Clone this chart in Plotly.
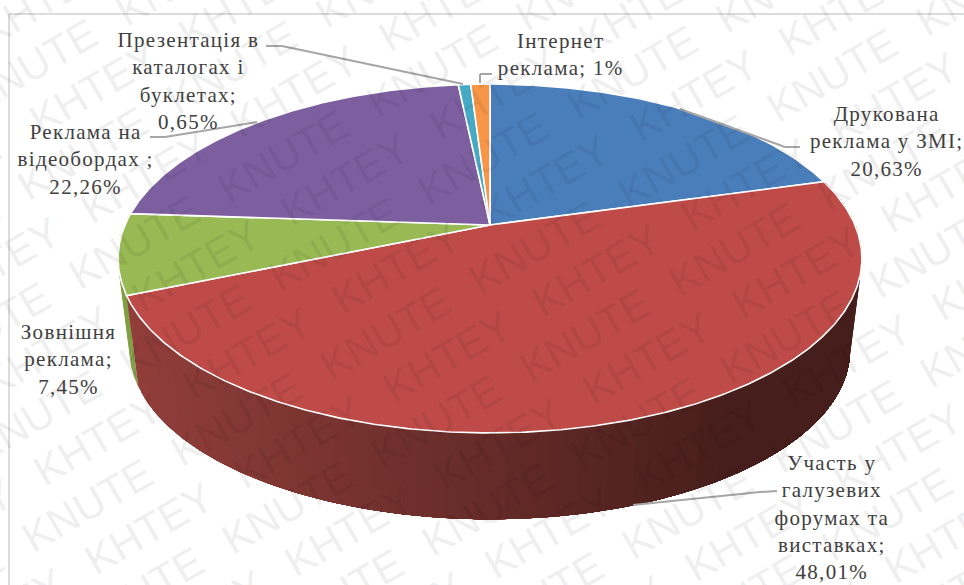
import math
import plotly.graph_objects as go

# Share of each promotion channel, percent, clockwise from twelve o'clock
channels = ["Друкована реклама у ЗМІ", "Участь у галузевих форумах та виставках", "Зовнішня реклама",
            "Реклама на відеобордах", "Презентація в каталогах і буклетах", "Інтернет реклама"]
shares = [20.63, 48.01, 7.45, 22.26, 0.65, 1.0]
share_labels = ["20,63%", "48,01%", "7,45%", "22,26%", "0,65%", "1%"]
top_colors = ["#4A7EBB", "#BE4B48", "#98B954", "#7D5FA0", "#46AAC4", "#F79646"]
label_lines = [["Друкована", "реклама у ЗМІ;"], ["Участь у", "галузевих", "форумах та", "виставках;"],
               ["Зовнішня", "реклама;"], ["Реклама на", "відеобордах ;"],
               ["Презентація в", "каталогах і", "буклетах;"], ["Інтернет"]]
watermark_words = ["KNUTE", "KHTEY"]

# Tilted-disc projection, in page pixels
WIDTH, HEIGHT = 964, 585
CX, CY, A, B, K = 490, 225, 365, 168, 0.192
DEPTH_CY, DEPTH_SCALE = 318, 0.968


def project(angle_deg, lower=False):
    t = math.radians(angle_deg)
    u, v = math.sin(t), math.cos(t)
    d = 1 + K * v
    s = DEPTH_SCALE if lower else 1
    y0 = DEPTH_CY if lower else CY
    return CX + s * A * u / d, y0 - s * B * v / d


def arc(a0, a1, lower=False):
    n = max(2, int(abs(a1 - a0) * 2))
    return [project(a0 + (a1 - a0) * i / n, lower) for i in range(n + 1)]


def mix(c0, c1, f):
    return "rgb(%d,%d,%d)" % tuple(round(c0[i] + (c1[i] - c0[i]) * f) for i in range(3))


edges = [0]
for share in shares:
    edges.append(edges[-1] + share * 3.6)

fig = go.Figure()


def polygon(points, fill, line_color=None, line_width=0):
    fig.add_trace(go.Scatter(x=[p[0] for p in points], y=[p[1] for p in points], mode="lines",
                             fill="toself", fillcolor=fill, hoverinfo="skip", showlegend=False,
                             line=dict(color=line_color or fill, width=line_width)))


# Outer wall: only the green and red slices face the viewer
green_steps = 9
for i in range(green_steps):
    a0 = edges[2] + (edges[3] - edges[2]) * i / green_steps
    a1 = edges[2] + (edges[3] - edges[2]) * (i + 1) / green_steps
    polygon(arc(a0, a1) + arc(a1, a0, True), "#7F9F42", "#7F9F42", 0.5)

# The red wall darkens from left to right; each band overpaints the rest of the wall
wall_left, wall_right = (146, 62, 59), (70, 30, 27)
steps = 90
for i in range(steps):
    a0 = edges[2] - (edges[2] - edges[1]) * i / steps
    x_here = project(a0, True)[0]
    f = min(1, max(0, (x_here - 135) / 585))
    polygon(arc(a0, edges[1]) + arc(edges[1], a0, True), mix(wall_left, wall_right, f))

# Top face
for i, color in enumerate(top_colors):
    polygon([(CX, CY)] + arc(edges[i], edges[i + 1]) + [(CX, CY)], color, "#FFFFFF", 1.6)

# Frame and leader lines, page pixels
shapes = [dict(type="line", x0=9, y0=14, x1=964, y1=14, line=dict(color="#DCDCDC", width=2)),
          dict(type="line", x0=9, y0=14, x1=9, y1=585, line=dict(color="#DCDCDC", width=2))]
leaders = [[(266, 46), (282, 46), (463, 84)], [(492, 74), (480, 74), (480, 83)],
           [(800, 147), (785, 147), (680, 109)], [(150, 137), (165, 137), (257, 122)],
           [(777, 491), (760, 492), (633, 505)]]
for path in leaders:
    for p, q in zip(path, path[1:]):
        shapes.append(dict(type="line", x0=p[0], y0=p[1], x1=q[0], y1=q[1],
                           line=dict(color="#A6A6A6", width=2)))

annotations = []

# Diagonal watermark: rows alternate between the two words
ANGLE = math.radians(30)
along = (math.cos(ANGLE), -math.sin(ANGLE))
across = (math.sin(ANGLE), math.cos(ANGLE))
ROW_GAP, WORD_STEP, ORIGIN = 51, 172, (385, 333)
for row in range(-12, 13):
    word = watermark_words[row % 2]
    phase = 42 if row % 2 else 0
    for col in range(-8, 9):
        dist = phase + col * WORD_STEP
        x = ORIGIN[0] + row * ROW_GAP * across[0] + dist * along[0]
        y = ORIGIN[1] + row * ROW_GAP * across[1] + dist * along[1]
        if -90 < x < WIDTH + 90 and -70 < y < HEIGHT + 70:
            annotations.append(dict(x=x / WIDTH, y=1 - y / HEIGHT, xref="paper", yref="paper", text=word,
                                    xanchor="center", yanchor="middle", showarrow=False, textangle=-30,
                                    font=dict(family="Liberation Sans", size=42, color="rgba(0,0,0,0.085)")))

# Slice captions: centre of each text block
label_centres = [(886, 141), (832, 517), (68, 359), (85, 159), (188, 81), (560, 54)]
for i, (x, y) in enumerate(label_centres):
    lines = list(label_lines[i])
    if i == 5:
        lines.append("реклама; " + share_labels[i])
    else:
        lines.append(share_labels[i])
    annotations.append(dict(x=x, y=y, text="<br>".join(lines), showarrow=False, align="center",
                            xanchor="center", yanchor="middle",
                            font=dict(family="Liberation Serif", size=21, color="#404040")))

fig.update_layout(width=WIDTH, height=HEIGHT, margin=dict(l=0, r=0, t=0, b=0), paper_bgcolor="white",
                  plot_bgcolor="white", showlegend=False, shapes=shapes, annotations=annotations,
                  xaxis=dict(range=[0, WIDTH], visible=False, fixedrange=True),
                  yaxis=dict(range=[HEIGHT, 0], visible=False, fixedrange=True))

# Captions are set with a little tracking
tracking = """
document.querySelectorAll('.annotation-text').forEach(function (t) {
  if (String(t.style.fontFamily).indexOf('Serif') >= 0) { t.style.letterSpacing = '1.3px'; }
});
"""
fig.write_html("out.html", config=dict(displayModeBar=False), post_script=tracking)
